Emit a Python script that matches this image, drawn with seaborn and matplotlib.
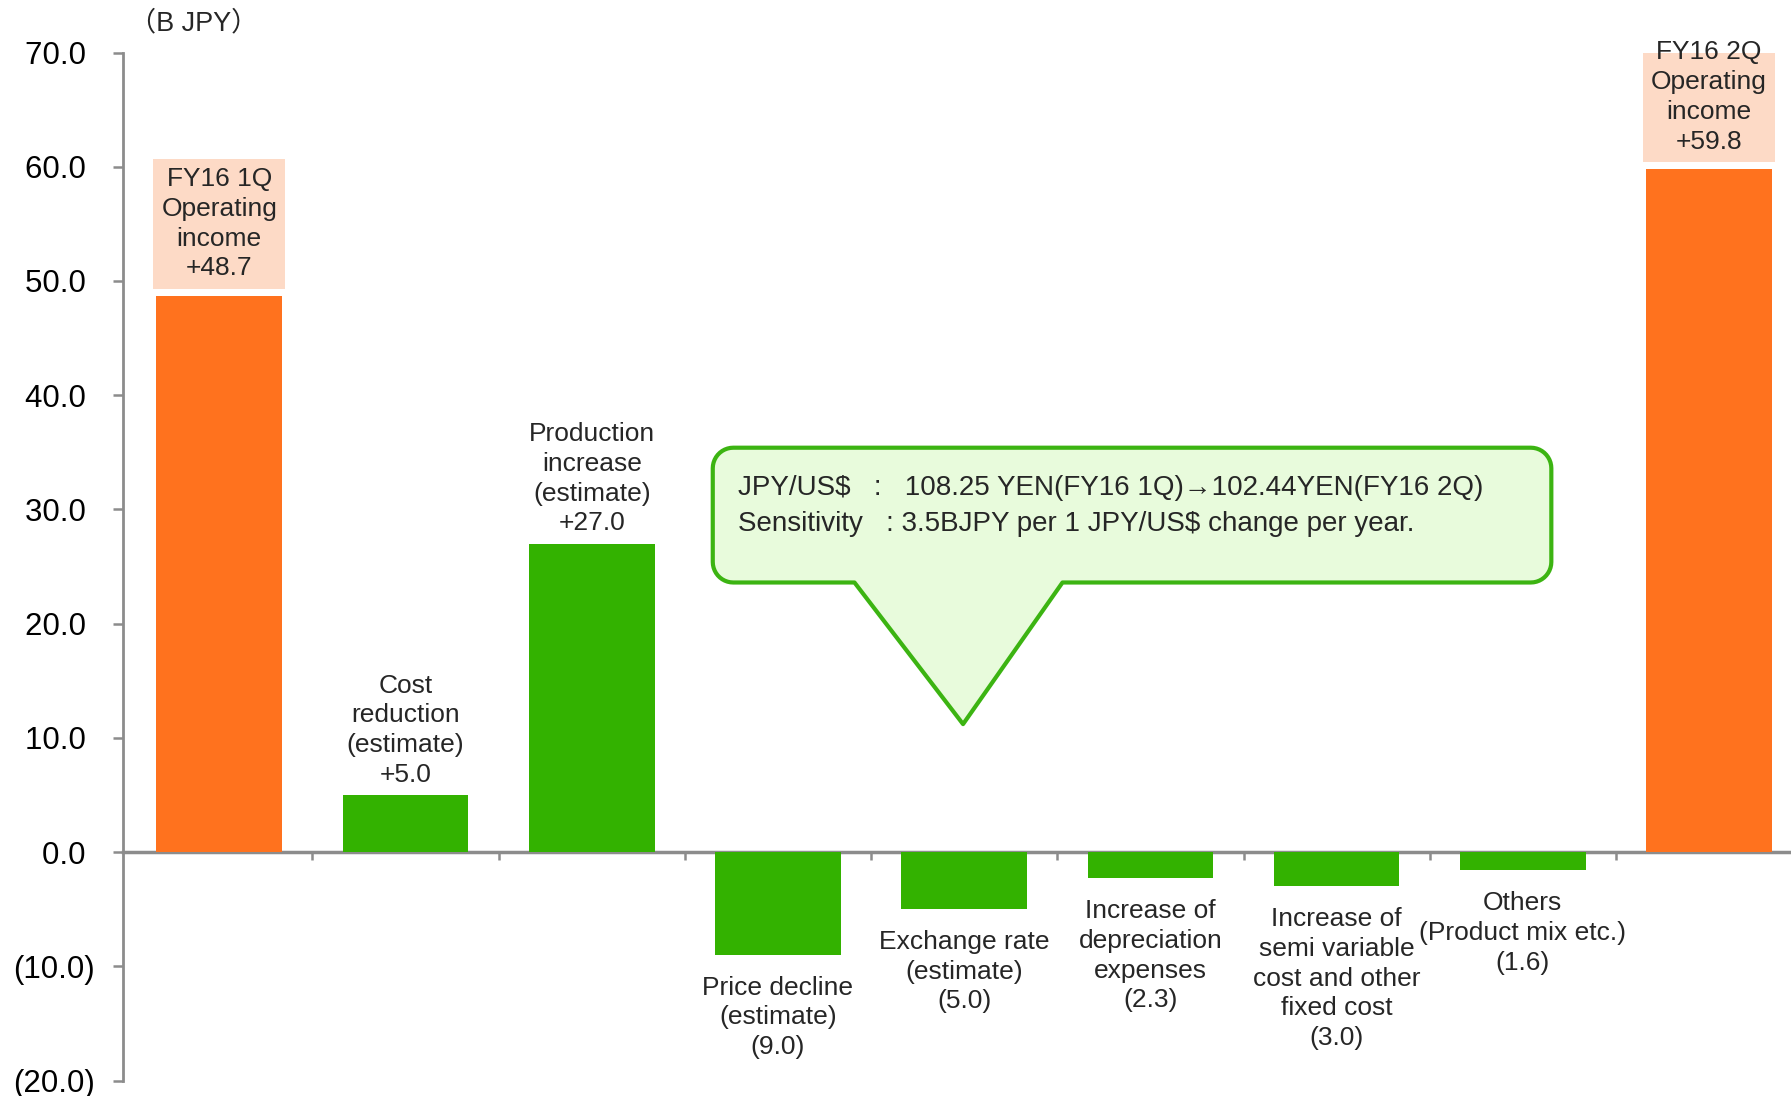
import numpy as np
import pandas as pd
import matplotlib
matplotlib.use("Agg")
import matplotlib.pyplot as plt
import seaborn as sns
from matplotlib.patches import Rectangle, Polygon

# ---------------- data ----------------
categories = ["FY16 1Q\nOperating\nincome", "Cost\nreduction\n(estimate)",
              "Production\nincrease\n(estimate)", "Price decline\n(estimate)",
              "Exchange rate\n(estimate)", "Increase of\ndepreciation\nexpenses",
              "Increase of\nsemi variable\ncost and other\nfixed cost",
              "Others\n(Product mix etc.)", "FY16 2Q\nOperating\nincome"]
values = [48.7, 5.0, 27.0, -9.0, -5.0, -2.3, -3.0, -1.6, 59.8]
value_labels = ["+48.7", "+5.0", "+27.0", "(9.0)", "(5.0)", "(2.3)", "(3.0)", "(1.6)", "+59.8"]
kinds = ["total", "delta", "delta", "delta", "delta", "delta", "delta", "delta", "total"]
y_ticks = [-20, -10, 0, 10, 20, 30, 40, 50, 60, 70]
unit_label = "（B JPY）"
callout_lines = ["JPY/US$   :   108.25 YEN(FY16 1Q)\u2192102.44YEN(FY16 2Q)",
                 "Sensitivity   : 3.5BJPY per 1 JPY/US$ change per year."]

ORANGE = "#FF721E"
GREEN = "#33B200"
PEACH = "#FDDAC6"
CALLOUT_FILL = "#E8FBDC"
CALLOUT_EDGE = "#3CB412"
AXIS_GRAY = "#8C8C8C"

sns.set_style("white")
plt.rcParams['font.family'] = ['Liberation Sans', 'Noto Sans CJK JP', 'DejaVu Sans']

df = pd.DataFrame({"cat": categories, "val": values, "kind": kinds})
palette = [ORANGE if k == "total" else GREEN for k in kinds]

W, H = 1791, 1096
fig = plt.figure(figsize=(W / 100, H / 100), dpi=100)
left_px, top_px, bot_px = 123, 52.5, 1080.5
ax = fig.add_axes([left_px / W, 1 - bot_px / H, 1 - left_px / W, (bot_px - top_px) / H])

sns.barplot(data=df, x="cat", y="val", hue="cat", palette=palette, dodge=False,
            width=0.675, legend=False, ax=ax, saturation=1, edgecolor="none",
            linewidth=0, zorder=2)

ax.set_xlim(-0.517, 8.44)
ax.set_ylim(-20, 70)

# spines
for s in ["top", "right"]:
    ax.spines[s].set_visible(False)
ax.spines["left"].set_color(AXIS_GRAY)
ax.spines["left"].set_linewidth(2)
ax.spines["left"].set_bounds(-20, 70)
ax.spines["bottom"].set_position(("data", 0))
ax.spines["bottom"].set_color(AXIS_GRAY)
ax.spines["bottom"].set_linewidth(2.5)
ax.spines["bottom"].set_zorder(1)

ax.set_yticks(y_ticks)
ax.set_yticklabels([f"({abs(v):.1f})" if v < 0 else f"{v:.1f} " for v in y_ticks])
ax.tick_params(axis="y", direction="out", length=7, width=1.8, color=AXIS_GRAY,
               labelsize=22.5, pad=13.5, labelcolor="black", left=True)
ax.set_xticks(np.arange(0.5, len(categories) - 0.5, 1.0))
ax.set_xticklabels([])
ax.tick_params(axis="x", direction="out", length=6, width=1.8, color=AXIS_GRAY, bottom=True)
ax.set_xlabel("")
ax.set_ylabel("")
ax.grid(False)

FS = 19
LS = 1.3
for i, (cat, v, lab, k) in enumerate(zip(categories, values, value_labels, kinds)):
    if k == "total":
        bw, gap, bh = 0.71, 0.6, 11.4
        ax.add_patch(Rectangle((i - bw / 2, v + gap), bw, bh, facecolor=PEACH,
                               edgecolor="none", zorder=3))
        ax.text(i, v + gap + bh / 2, cat + "\n" + lab, ha="center", va="center",
                fontsize=FS, linespacing=LS, zorder=4)
    elif v >= 0:
        ax.annotate(cat + "\n" + lab, (i, v), xytext=(0, 6), textcoords="offset points",
                    ha="center", va="bottom", fontsize=FS, linespacing=LS,
                    annotation_clip=False)
    else:
        ax.annotate(cat + "\n" + lab, (i, v), xytext=(0, -15), textcoords="offset points",
                    ha="center", va="top", fontsize=FS, linespacing=LS,
                    annotation_clip=False)

# ---------------- callout ----------------
x0, x1, y0, y1 = 2.65, 7.153, 23.6, 35.4
rx, ry = 0.11, 1.8
px0, px1, tipx, tipy = 3.411, 4.528, 3.994, 11.2


def arc(cx, cy, a0, a1, n=12):
    t = np.linspace(np.radians(a0), np.radians(a1), n)
    return list(zip(cx + rx * np.cos(t), cy + ry * np.sin(t)))


verts = []
verts += [(x0 + rx, y0), (px0, y0), (tipx, tipy), (px1, y0), (x1 - rx, y0)]
verts += arc(x1 - rx, y0 + ry, -90, 0)
verts += arc(x1 - rx, y1 - ry, 0, 90)
verts += arc(x0 + rx, y1 - ry, 90, 180)
verts += arc(x0 + rx, y0 + ry, 180, 270)
ax.add_patch(Polygon(verts, closed=True, facecolor=CALLOUT_FILL, edgecolor=CALLOUT_EDGE,
                     linewidth=3, joinstyle="round", zorder=5))
ax.text(2.785, 31.9, callout_lines[0], ha="left", va="center", fontsize=20, zorder=6)
ax.text(2.785, 28.75, callout_lines[1], ha="left", va="center", fontsize=20, zorder=6)

fig.text(194 / W, 1 - 23 / H, unit_label, ha="center", va="center", fontsize=19.5)

fig.savefig("out.png", dpi=100)
